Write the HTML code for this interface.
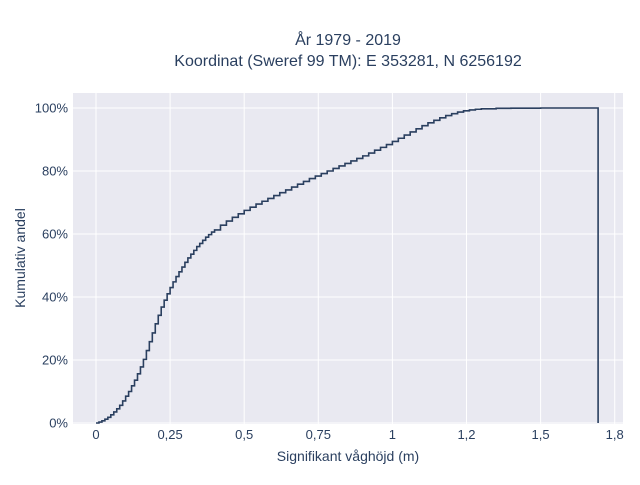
<!DOCTYPE html>
<html><head><meta charset="utf-8"><style>
body{margin:0;background:#fff;font-family:"Liberation Sans",sans-serif;}
svg text{fill:#2a3f5f;font-family:"Liberation Sans",sans-serif;}
</style></head><body>
<svg id="chart" width="640" height="480">
<text x="348" y="45" font-size="16" text-anchor="middle">År 1979 - 2019</text>
<text x="348" y="66" font-size="16" text-anchor="middle">Koordinat (Sweref 99 TM): E 353281, N 6256192</text>
<rect x="73" y="93" width="550" height="331" fill="#e9e9f1"/>
<g id="grid"></g><g id="series"></g><g id="ticks"></g>
<text x="348" y="461" font-size="14" text-anchor="middle">Signifikant våghöjd (m)</text>
<text transform="translate(25,258) rotate(-90)" font-size="14" text-anchor="middle">Kumulativ andel</text>
</svg>
<script>
const xTickVals=[0,0.25,0.5,0.75,1,1.25,1.5,1.75];
const xTickLabels=["0","0,25","0,5","0,75","1","1,2","1,5","1,8"];
const yTickVals=[0,20,40,60,80,100];
const waveHeights=[0,0.01,0.02,0.03,0.04,0.05,0.06,0.07,0.08,0.09,0.10,0.11,0.12,0.13,0.14,0.15,0.16,0.17,0.18,0.19,0.20,0.21,0.22,0.23,0.24,0.25,0.26,0.27,0.28,0.29,0.30,0.31,0.32,0.33,0.34,0.35,0.36,0.37,0.38,0.39,0.40,0.42,0.44,0.46,0.48,0.50,0.52,0.54,0.56,0.58,0.60,0.62,0.64,0.66,0.68,0.70,0.72,0.74,0.76,0.78,0.80,0.82,0.84,0.86,0.88,0.90,0.92,0.94,0.96,0.98,1.00,1.02,1.04,1.06,1.08,1.10,1.12,1.14,1.16,1.18,1.20,1.22,1.24,1.26,1.28,1.30,1.35,1.40,1.50,1.694];
const cumPercent=[0,0.3,0.7,1.2,1.8,2.6,3.5,4.5,5.6,7,8.5,10,11.8,13.6,15.6,17.8,20.2,23,25.8,28.6,31.5,34.2,36.8,39,41,43,44.8,46.5,48,49.5,51,52.4,53.6,54.8,56,57,58,59,59.8,60.6,61.3,62.8,64.1,65.3,66.4,67.5,68.5,69.5,70.4,71.3,72.2,73.1,74,74.9,75.8,76.7,77.6,78.4,79.2,80,80.8,81.6,82.4,83.2,84,84.8,85.7,86.6,87.5,88.4,89.4,90.4,91.4,92.4,93.4,94.4,95.3,96.1,96.9,97.6,98.2,98.7,99.1,99.4,99.6,99.75,99.9,99.95,100,100];
const xs=v=>96+v*296.4, ys=v=>423-v*3.15;
const NS="http://www.w3.org/2000/svg";
const grid=document.getElementById('grid'),ticks=document.getElementById('ticks'),series=document.getElementById('series');
xTickVals.forEach((v,i)=>{
 const l=document.createElementNS(NS,'line');
 l.setAttribute('x1',xs(v));l.setAttribute('x2',xs(v));l.setAttribute('y1',93);l.setAttribute('y2',424);
 l.setAttribute('stroke','#fff');l.setAttribute('stroke-width','1');
 
 
 grid.appendChild(l);
 const t=document.createElementNS(NS,'text');
 t.setAttribute('x',xs(v));t.setAttribute('y',439);t.setAttribute('font-size','13');t.setAttribute('text-anchor','middle');
 t.textContent=xTickLabels[i];
 
 
 ticks.appendChild(t);
});
yTickVals.forEach(v=>{
 const l=document.createElementNS(NS,'line');
 l.setAttribute('x1',73);l.setAttribute('x2',623);l.setAttribute('y1',ys(v));l.setAttribute('y2',ys(v));
 l.setAttribute('stroke','#fff');l.setAttribute('stroke-width','1');
 
 
 grid.appendChild(l);
 const t=document.createElementNS(NS,'text');
 t.setAttribute('x',68);t.setAttribute('y',ys(v)+4.5);t.setAttribute('font-size','13');t.setAttribute('text-anchor','end');
 t.textContent=v+'%';
 
 
 ticks.appendChild(t);
});
let d='M'+xs(waveHeights[0])+','+ys(cumPercent[0]);
for(let i=1;i<waveHeights.length;i++){
 d+=' H'+xs(waveHeights[i])+' V'+ys(cumPercent[i]);
}
d+=' V'+ys(0);
const p=document.createElementNS(NS,'path');
p.setAttribute('d',d);p.setAttribute('fill','none');p.setAttribute('stroke','#2a3f5f');p.setAttribute('stroke-width','1.6');


series.appendChild(p);
</script>
</body></html>
